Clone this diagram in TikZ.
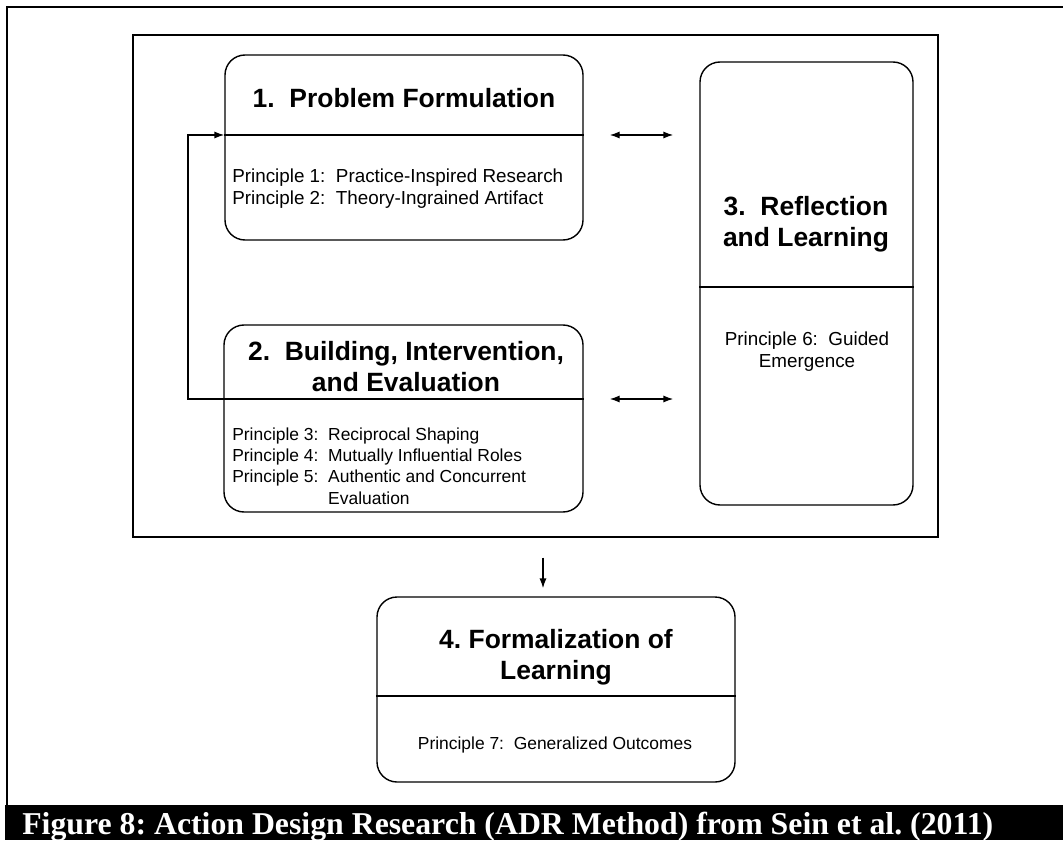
\documentclass[tikz,border=0pt]{standalone}
\usepackage{fontspec}
\setmainfont{Liberation Sans}
\newfontfamily\capfont{Liberation Serif}
\usetikzlibrary{arrows.meta,fit,positioning}
\frenchspacing

\begin{document}
\begin{tikzpicture}[x=0.025cm,y=-0.025cm,
  box/.style={draw,line width=1pt,rounded corners=0.5cm,inner sep=0pt},
  frm/.style={draw,line width=1pt,inner sep=0pt},
  ttl/.style={font=\fontsize{18.8}{22}\selectfont\bfseries,align=center,inner sep=0pt},
  prin/.style={font=\fontsize{13.4}{16.3}\selectfont,inner sep=0pt},
  prinsm/.style={font=\fontsize{12.4}{15.2}\selectfont,inner sep=0pt},
  arr/.style={line width=1pt,-{Latex[length=0.25cm,width=0.18cm]}},
  darr/.style={line width=1pt,{Latex[length=0.25cm,width=0.18cm]}-{Latex[length=0.25cm,width=0.18cm]},
    shorten <=0.65cm,shorten >=0.65cm}]

 \useasboundingbox (0,0) rectangle (1063,840);

 % page frame and caption bar
 \draw[line width=1.6pt] (7,805) -- (7,7) -- (1063,7);
 \fill (5,805) rectangle (1063,840);
 \node[anchor=base west,text=white,inner sep=0pt,
   font=\capfont\fontsize{22.6}{26}\selectfont\bfseries] (cap) at (22,834)
   {Figure 8: Action Design Research (ADR Method) from Sein et al. (2011)};

 % outer frame and stage boxes
 \node[frm,fit={(133,35) (938,537)}] (frame) {};
 \node[box,fit={(225,55) (583,240)}] (pf) {};
 \node[box,fit={(224,325) (583,512)}] (bi) {};
 \node[box,fit={(700,62) (913,505)}] (rl) {};
 \node[box,fit={(377,597) (735,782)}] (fl) {};

 % dividers
 \coordinate (fb) at (188,399);
 \draw[line width=1pt] (pf.west |- 0,135) -- (pf.east |- 0,135);
 \draw[line width=1pt] (rl.west |- 0,287) -- (rl.east |- 0,287);
 \draw[line width=1pt] (fl.west |- 0,696) -- (fl.east |- 0,696);

 % titles (base = last line)
 \node[ttl,anchor=base] (pf-t) at (404,108) {1.~~Problem Formulation};
 \node[ttl,anchor=base] (bi-t) at (406,391) {\fontsize{18.8}{18.4}\selectfont 2.~~Building, Intervention,\\and Evaluation};
 \node[ttl,anchor=base] (rl-t) at (806,246) {3.~~Reflection\\and Learning};
 \node[ttl,anchor=base] (fl-t) at (556,679) {\fontsize{18.8}{22.7}\selectfont 4. Formalization of\\Learning};

 % principles
 \node[prin,anchor=base west] (pf-p) at (232,182)
   {\begin{tabular}[t]{@{}l@{~~}l@{}}
    Principle 1: & Practice-Inspired Research\\
    Principle 2: & Theory-Ingrained Artifact
   \end{tabular}};
 \node[prinsm,anchor=base west] (bi-p) at (232,440)
   {\begin{tabular}[t]{@{}l@{~~}l@{}}
    Principle 3: & Reciprocal Shaping\\
    Principle 4: & Mutually Influential Roles\\
    Principle 5: & Authentic and Concurrent\\
                 & Evaluation
   \end{tabular}};
 \node[prin,anchor=base] (rl-p) at (807,345)
   {\begin{tabular}[t]{@{}c@{}}
    Principle 6:~~Guided\\
    Emergence
   \end{tabular}};
 \node[prinsm,anchor=base] (fl-p) at (555,749) {Principle 7:~~Generalized Outcomes};

 % feedback loop from building back to problem formulation
 \draw[arr] (bi.east |- fb) -- (fb) |- (pf.west |- 0,135);

 % exchanges with reflection
 \draw[darr] (pf.east |- 0,135) -- (rl.west |- 0,135);
 \draw[darr] (bi.east |- fb) -- (rl.west |- fb);

 % on to formalization
 \draw[arr,shorten <=0.5cm,shorten >=0.2cm] (frame.south -| 543,0) -- (fl.north -| 543,0);

\end{tikzpicture}
\end{document}
